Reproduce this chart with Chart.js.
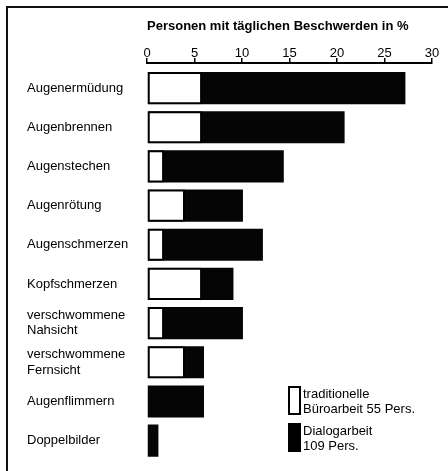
<!DOCTYPE html>
<html>
<head>
<meta charset="utf-8">
<script src="https://cdn.jsdelivr.net/npm/chart.js@4/dist/chart.umd.min.js"></script>
<style>
  html, body { margin: 0; padding: 0; background: #fff; }
  #wrap { position: relative; width: 448px; height: 471px; overflow: hidden; font-family: "Liberation Sans", Arial, sans-serif; }
  #frame { position: absolute; left: 6px; top: 6px; right: 0; bottom: 0; border-top: 2px solid #111; border-left: 2px solid #111; pointer-events: none; }
  canvas { position: absolute; left: 0; top: 0; }
  .leg { position: absolute; left: 288px; font-size: 13px; color: #000; }
  .leg .box { position: absolute; left: 0; top: 0; width: 13px; height: 29px; box-sizing: border-box; border: 2px solid #000; }
  .leg .txt { position: absolute; left: 15px; top: 1px; line-height: 14.5px; white-space: nowrap; }
</style>
</head>
<body>
<div id="wrap">
  <canvas id="c" width="448" height="471"></canvas>
  <div id="frame"></div>
  <div class="leg" style="top:386px"><div class="box" style="background:#fff"></div><div class="txt">traditionelle<br>Büroarbeit 55 Pers.</div></div>
  <div class="leg" style="top:423px"><div class="box" style="background:#000"></div><div class="txt">Dialogarbeit<br>109 Pers.</div></div>
</div>
<script>
const categories = [
  "Augenermüdung",
  "Augenbrennen",
  "Augenstechen",
  "Augenrötung",
  "Augenschmerzen",
  "Kopfschmerzen",
  ["verschwommene", "Nahsicht"],
  ["verschwommene", "Fernsicht"],
  "Augenflimmern",
  "Doppelbilder"
];
const traditionelle = [5.8, 5.8, 1.8, 4.0, 1.8, 5.8, 1.8, 4.0, null, null];
const dialogarbeit = [27.2, 20.8, 14.4, 10.1, 12.2, 9.1, 10.1, 6.0, 6.0, 1.2];
const xTicks = [0, 5, 10, 15, 20, 25, 30];
const axisTitle = "Personen mit täglichen Beschwerden in %";

const toPoints = arr => arr.map((v, i) => ({ x: v, y: i }));
const FONT = "'Liberation Sans', Arial, sans-serif";

new Chart(document.getElementById('c'), {
  type: 'bar',
  data: {
    datasets: [
      {
        label: 'traditionelle Büroarbeit 55 Pers.',
        data: toPoints(traditionelle),
        backgroundColor: '#ffffff',
        borderColor: '#000000',
        borderWidth: 2,
        borderSkipped: false,
        grouped: false,
        categoryPercentage: 1,
        barPercentage: 0.82
      },
      {
        label: 'Dialogarbeit 109 Pers.',
        data: toPoints(dialogarbeit),
        backgroundColor: '#050505',
        borderWidth: 0,
        grouped: false,
        categoryPercentage: 1,
        barPercentage: 0.82
      }
    ]
  },
  options: {
    indexAxis: 'y',
    responsive: false,
    animation: false,
    layout: { padding: { left: 27, right: 16, top: 8, bottom: 10 } },
    plugins: { legend: { display: false }, tooltip: { enabled: false } },
    scales: {
      x: {
        type: 'linear',
        position: 'top',
        min: xTicks[0],
        max: xTicks[xTicks.length - 1],
        afterBuildTicks: s => { s.ticks = xTicks.map(v => ({ value: v })); },
        afterFit: s => { s.height = 55; },
        ticks: { color: '#000', font: { family: FONT, size: 13 }, padding: -3, maxRotation: 0 },
        grid: { drawOnChartArea: false, drawTicks: true, tickLength: 5, color: '#000', lineWidth: 1.5 },
        border: { display: true, color: '#000', width: 2 },
        title: {
          display: true,
          text: axisTitle,
          align: 'start',
          color: '#000',
          font: { family: FONT, size: 13, weight: 'bold' },
          padding: { top: 11, bottom: 0 }
        }
      },
      y: {
        type: 'linear',
        reverse: true,
        offset: false,
        min: -0.64,
        max: 9.5,
        afterFit: s => { s.width = 120; },
        ticks: {
          stepSize: 1,
          includeBounds: false,
          crossAlign: 'far',
          color: '#000',
          font: { family: FONT, size: 13 },
          callback: v => categories[v]
        },
        grid: { display: false, offset: false },
        border: { display: false }
      }
    }
  }
});
</script>
</body>
</html>
